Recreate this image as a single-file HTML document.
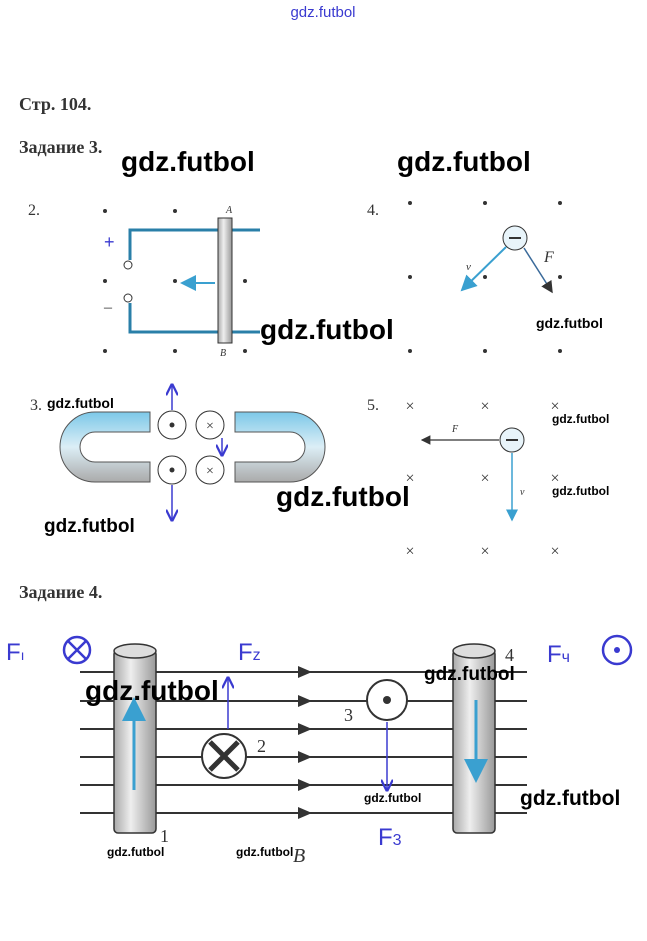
<!DOCTYPE html>
<html><head><meta charset="utf-8"><style>
body{margin:0;background:#fff;width:647px;height:941px;overflow:hidden}
svg{display:block}
.wm{font-family:"Liberation Sans",sans-serif;font-weight:bold;fill:#000}
.ser{font-family:"Liberation Serif",serif;fill:#333}
.hw{font-family:"Liberation Sans",sans-serif;fill:#3a3ad0}
</style></head><body>
<svg width="647" height="941" viewBox="0 0 647 941">
<defs>
<marker id="a" markerWidth="8" markerHeight="8" refX="7" refY="4" orient="auto"><path d="M0,0 L8,4 L0,8 z" fill="#333"/></marker>
<marker id="ab" markerWidth="8" markerHeight="8" refX="7" refY="4" orient="auto"><path d="M0,0 L8,4 L0,8 z" fill="#3aa0d0"/></marker>
<marker id="av" markerWidth="8" markerHeight="8" refX="7" refY="4" orient="auto"><path d="M0,0 L8,4 L0,8" fill="none" stroke="#3a3ad0" stroke-width="1.5"/></marker>
<linearGradient id="cyl" x1="0" x2="1"><stop offset="0" stop-color="#aaa"/><stop offset=".4" stop-color="#eee"/><stop offset="1" stop-color="#999"/></linearGradient>
<linearGradient id="mag" x1="0" y1="0" x2="0" y2="1"><stop offset="0" stop-color="#7cc8e8"/><stop offset=".5" stop-color="#dceef6"/><stop offset="1" stop-color="#aaa"/></linearGradient>
</defs>
<text x="323" y="17" text-anchor="middle" class="hw" font-size="15">gdz.futbol</text>
<text x="19" y="110" class="ser" font-size="18" font-weight="bold">Стр. 104.</text>
<text x="19" y="153" class="ser" font-size="18" font-weight="bold">Задание 3.</text>
<text x="19" y="598" class="ser" font-size="18" font-weight="bold">Задание 4.</text>

<text x="28" y="215" class="ser" font-size="16">2.</text>
<g fill="#333">
<circle cx="105" cy="211" r="2"/><circle cx="175" cy="211" r="2"/><circle cx="105" cy="281" r="2"/><circle cx="175" cy="281" r="2"/><circle cx="105" cy="351" r="2"/><circle cx="175" cy="351" r="2"/><circle cx="245" cy="281" r="2"/><circle cx="245" cy="351" r="2"/>
</g>
<path d="M260,230 H130 V260 M130,303 V332 H260" fill="none" stroke="#2a7fa8" stroke-width="3"/>
<circle cx="128" cy="265" r="4" fill="#fff" stroke="#333"/><circle cx="128" cy="298" r="4" fill="#fff" stroke="#333"/>
<text x="104" y="248" class="hw" font-size="18">+</text><text x="104" y="312" class="ser" font-size="16">–</text>
<rect x="218" y="218" width="14" height="125" fill="url(#cyl)" stroke="#333"/>
<line x1="215" y1="283" x2="182" y2="283" stroke="#3aa0d0" stroke-width="2" marker-end="url(#ab)"/>
<text x="226" y="213" class="ser" font-size="10" font-style="italic">A</text>
<text x="220" y="356" class="ser" font-size="10" font-style="italic">B</text>

<text x="367" y="215" class="ser" font-size="16">4.</text>
<g fill="#333">
<circle cx="410" cy="203" r="2"/><circle cx="485" cy="203" r="2"/><circle cx="560" cy="203" r="2"/><circle cx="410" cy="277" r="2"/><circle cx="485" cy="277" r="2"/><circle cx="560" cy="277" r="2"/><circle cx="410" cy="351" r="2"/><circle cx="485" cy="351" r="2"/><circle cx="560" cy="351" r="2"/>
</g>
<circle cx="515" cy="238" r="12" fill="#e8f4fa" stroke="#333"/><line x1="509" y1="238" x2="521" y2="238" stroke="#333" stroke-width="2"/>
<line x1="506" y1="247" x2="462" y2="290" stroke="#3aa0d0" stroke-width="2" marker-end="url(#ab)"/>
<line x1="524" y1="248" x2="552" y2="292" stroke="#3a6a9a" stroke-width="1.5" marker-end="url(#a)"/>
<text x="544" y="262" class="ser" font-size="16" font-style="italic">F</text>
<text x="466" y="270" class="ser" font-size="11" font-style="italic">v</text>

<text x="30" y="410" class="ser" font-size="16">3.</text>
<path d="M150,412 H95 a35,35 0 0 0 0,70 H150 V462 H95 a15,15 0 0 1 0,-30 H150 z" fill="url(#mag)" stroke="#555"/>
<path d="M235,412 H290 a35,35 0 0 1 0,70 H235 V462 H290 a15,15 0 0 0 0,-30 H235 z" fill="url(#mag)" stroke="#555"/>
<g fill="#fff" stroke="#333"><circle cx="172" cy="425" r="14"/><circle cx="172" cy="470" r="14"/><circle cx="210" cy="425" r="14"/><circle cx="210" cy="470" r="14"/></g>
<circle cx="172" cy="425" r="2.5" fill="#333"/><circle cx="172" cy="470" r="2.5" fill="#333"/>
<text x="210" y="430" text-anchor="middle" font-size="14" fill="#333">×</text><text x="210" y="475" text-anchor="middle" font-size="14" fill="#333">×</text>
<line x1="172" y1="410" x2="172" y2="385" stroke="#3a3ad0" stroke-width="1.5" marker-end="url(#av)"/>
<line x1="172" y1="485" x2="172" y2="520" stroke="#3a3ad0" stroke-width="1.5" marker-end="url(#av)"/>
<line x1="222" y1="438" x2="222" y2="455" stroke="#3a3ad0" stroke-width="1.5" marker-end="url(#av)"/>

<text x="367" y="410" class="ser" font-size="16">5.</text>
<g font-size="16" fill="#333" text-anchor="middle">
<text x="410" y="411">×</text><text x="485" y="411">×</text><text x="555" y="411">×</text>
<text x="410" y="483">×</text><text x="485" y="483">×</text><text x="555" y="483">×</text>
<text x="410" y="556">×</text><text x="485" y="556">×</text><text x="555" y="556">×</text>
</g>
<circle cx="512" cy="440" r="12" fill="#e8f4fa" stroke="#333"/><line x1="506" y1="440" x2="518" y2="440" stroke="#333" stroke-width="2"/>
<line x1="499" y1="440" x2="422" y2="440" stroke="#333" stroke-width="1.2" marker-end="url(#a)"/>
<line x1="512" y1="453" x2="512" y2="520" stroke="#3aa0d0" stroke-width="1.5" marker-end="url(#ab)"/>
<text x="452" y="432" class="ser" font-size="10" font-style="italic">F</text>
<text x="520" y="495" class="ser" font-size="10" font-style="italic">v</text>

<g stroke="#333" stroke-width="2">
<line x1="80" y1="672" x2="527" y2="672"/><line x1="80" y1="701" x2="527" y2="701"/><line x1="80" y1="729" x2="527" y2="729"/><line x1="80" y1="757" x2="527" y2="757"/><line x1="80" y1="785" x2="527" y2="785"/><line x1="80" y1="813" x2="527" y2="813"/>
</g>
<g fill="#333"><path d="M298,666 l14,6 l-14,6z"/><path d="M298,695 l14,6 l-14,6z"/><path d="M298,723 l14,6 l-14,6z"/><path d="M298,751 l14,6 l-14,6z"/><path d="M298,779 l14,6 l-14,6z"/><path d="M298,807 l14,6 l-14,6z"/></g>
<rect x="114" y="650" width="42" height="183" rx="4" fill="url(#cyl)" stroke="#333" stroke-width="1.5"/>
<ellipse cx="135" cy="651" rx="21" ry="7" fill="#ddd" stroke="#333" stroke-width="1.5"/>
<rect x="453" y="650" width="42" height="183" rx="4" fill="url(#cyl)" stroke="#333" stroke-width="1.5"/>
<ellipse cx="474" cy="651" rx="21" ry="7" fill="#ddd" stroke="#333" stroke-width="1.5"/>
<line x1="134" y1="790" x2="134" y2="700" stroke="#3aa0d0" stroke-width="3" marker-end="url(#ab)"/>
<line x1="476" y1="700" x2="476" y2="780" stroke="#3aa0d0" stroke-width="3" marker-end="url(#ab)"/>
<circle cx="224" cy="756" r="22" fill="#fff" stroke="#333" stroke-width="2"/>
<path d="M210,742 L238,770 M238,742 L210,770" stroke="#333" stroke-width="5"/>
<circle cx="387" cy="700" r="20" fill="#fff" stroke="#333" stroke-width="2"/><circle cx="387" cy="700" r="4" fill="#333"/>
<line x1="228" y1="729" x2="228" y2="678" stroke="#3a3ad0" stroke-width="1.5" marker-end="url(#av)"/>
<line x1="387" y1="722" x2="387" y2="790" stroke="#3a3ad0" stroke-width="1.5" marker-end="url(#av)"/>
<text x="257" y="752" class="ser" font-size="18">2</text><text x="344" y="721" class="ser" font-size="18">3</text>
<text x="505" y="661" class="ser" font-size="18">4</text><text x="160" y="842" class="ser" font-size="18">1</text>
<text x="293" y="862" class="ser" font-size="20" font-style="italic">B</text>
<text x="6" y="660" class="hw" font-size="24">F<tspan font-size="14">ı</tspan></text>
<circle cx="77" cy="650" r="13" fill="none" stroke="#3a3ad0" stroke-width="2.5"/><path d="M68,641 L86,659 M86,641 L68,659" stroke="#3a3ad0" stroke-width="2.5"/>
<text x="238" y="660" class="hw" font-size="24">F<tspan font-size="16">z</tspan></text>
<text x="378" y="845" class="hw" font-size="24">F<tspan font-size="16">3</tspan></text>
<text x="547" y="662" class="hw" font-size="24">F<tspan font-size="16">ч</tspan></text>
<circle cx="617" cy="650" r="14" fill="none" stroke="#3a3ad0" stroke-width="2.5"/><circle cx="617" cy="650" r="3" fill="#3a3ad0"/>

<text x="121" y="171" class="wm" font-size="28">gdz.futbol</text>
<text x="397" y="171" class="wm" font-size="28">gdz.futbol</text>
<text x="260" y="339" class="wm" font-size="28">gdz.futbol</text>
<text x="536" y="328" class="wm" font-size="14" font-weight="normal">gdz.futbol</text>
<text x="47" y="408" class="wm" font-size="14">gdz.futbol</text>
<text x="552" y="423" class="wm" font-size="12" font-weight="normal">gdz.futbol</text>
<text x="552" y="495" class="wm" font-size="12" font-weight="normal">gdz.futbol</text>
<text x="276" y="506" class="wm" font-size="28">gdz.futbol</text>
<text x="44" y="532" class="wm" font-size="19">gdz.futbol</text>
<text x="85" y="700" class="wm" font-size="28">gdz.futbol</text>
<text x="424" y="680" class="wm" font-size="19">gdz.futbol</text>
<text x="364" y="802" class="wm" font-size="12" font-weight="normal">gdz.futbol</text>
<text x="520" y="805" class="wm" font-size="21">gdz.futbol</text>
<text x="107" y="856" class="wm" font-size="12" font-weight="normal">gdz.futbol</text>
<text x="236" y="856" class="wm" font-size="12" font-weight="normal">gdz.futbol</text>
</svg>
</body></html>
